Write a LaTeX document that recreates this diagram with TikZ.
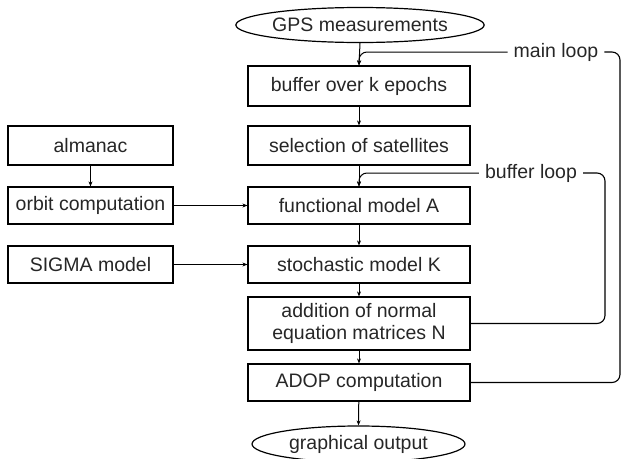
\documentclass[tikz,border=0pt]{standalone}
\usepackage{fontspec}
\setmainfont{Liberation Sans}
\usetikzlibrary{shapes.geometric,arrows.meta}
\begin{document}
\begin{tikzpicture}[x=1pt,y=-1pt,
  txt/.style={font=\fontsize{19.5}{22}\selectfont,text=black!85},
  box/.style={txt,draw,line width=1.2pt,minimum height=38pt,minimum width=222pt,inner sep=0pt,align=center},
  lbox/.style={box,minimum width=165pt},
  term/.style={txt,draw,ellipse,line width=1.2pt,inner sep=0pt},
  arr/.style={line width=1pt,-{Stealth[length=5pt,width=4pt]}},
  lp/.style={line width=1.1pt,rounded corners=8pt},
  lab/.style={txt,inner sep=6pt}]
\useasboundingbox (0,0) rectangle (624,458);
% main column
\node[term,minimum width=244pt,minimum height=35pt] (gps) at (360,25) {GPS measurements};
\node[box,minimum height=40pt] (buf) at (359,86) {buffer over k epochs};
\node[box,minimum height=39pt] (sel) at (359,145.5) {selection of satellites};
\node[box,minimum height=37pt] (fun) at (359,205.5) {functional model A};
\node[box,minimum height=37pt] (sto) at (359,264.5) {stochastic model K};
\node[box,minimum height=53pt] (add) at (359,323.5) {addition of normal\\equation matrices N};
\node[box,minimum height=37pt] (adop) at (359,382.5) {ADOP computation};
\node[term,minimum width=213pt,minimum height=36pt] (out) at (358.5,444) {graphical output};
% left column
\node[lbox,minimum height=39pt] (alm) at (90.5,145.5) {almanac};
\node[lbox,minimum height=37pt] (orb) at (90.5,205.5) {orbit computation};
\node[lbox,minimum height=37pt] (sig) at (90.5,264.5) {SIGMA model};
% labels of loops
\node[lab] (ml) at (556,52) {main loop};
\node[lab] (bl) at (531,173) {buffer loop};
\coordinate (mlt) at (359,52);
\coordinate (mlr1) at (620,382.5);
\coordinate (mlr2) at (620,52);
\coordinate (blt) at (359,173);
\coordinate (blr1) at (605,323.5);
\coordinate (blr2) at (605,173);
% main flow
\draw[arr] (gps.south) -- (buf.north);
\draw[arr] (buf) -- (sel);
\draw[arr] (sel) -- (fun);
\draw[arr] (fun) -- (sto);
\draw[arr] (sto) -- (add);
\draw[arr] (add) -- (adop);
\draw[arr] (adop) -- (out.north);
\draw[arr] (alm) -- (orb);
\draw[arr] (orb) -- (fun);
\draw[arr] (sig) -- (sto);
% loops
\draw[lp] (adop.east) -- (mlr1) -- (mlr2) -- (ml.east);
\draw[lp,arr] (ml.west) -- (mlt) -- (buf.north);
\draw[lp] (add.east) -- (blr1) -- (blr2) -- (bl.east);
\draw[lp,arr] (bl.west) -- (blt) -- (fun.north);
\end{tikzpicture}
\end{document}
